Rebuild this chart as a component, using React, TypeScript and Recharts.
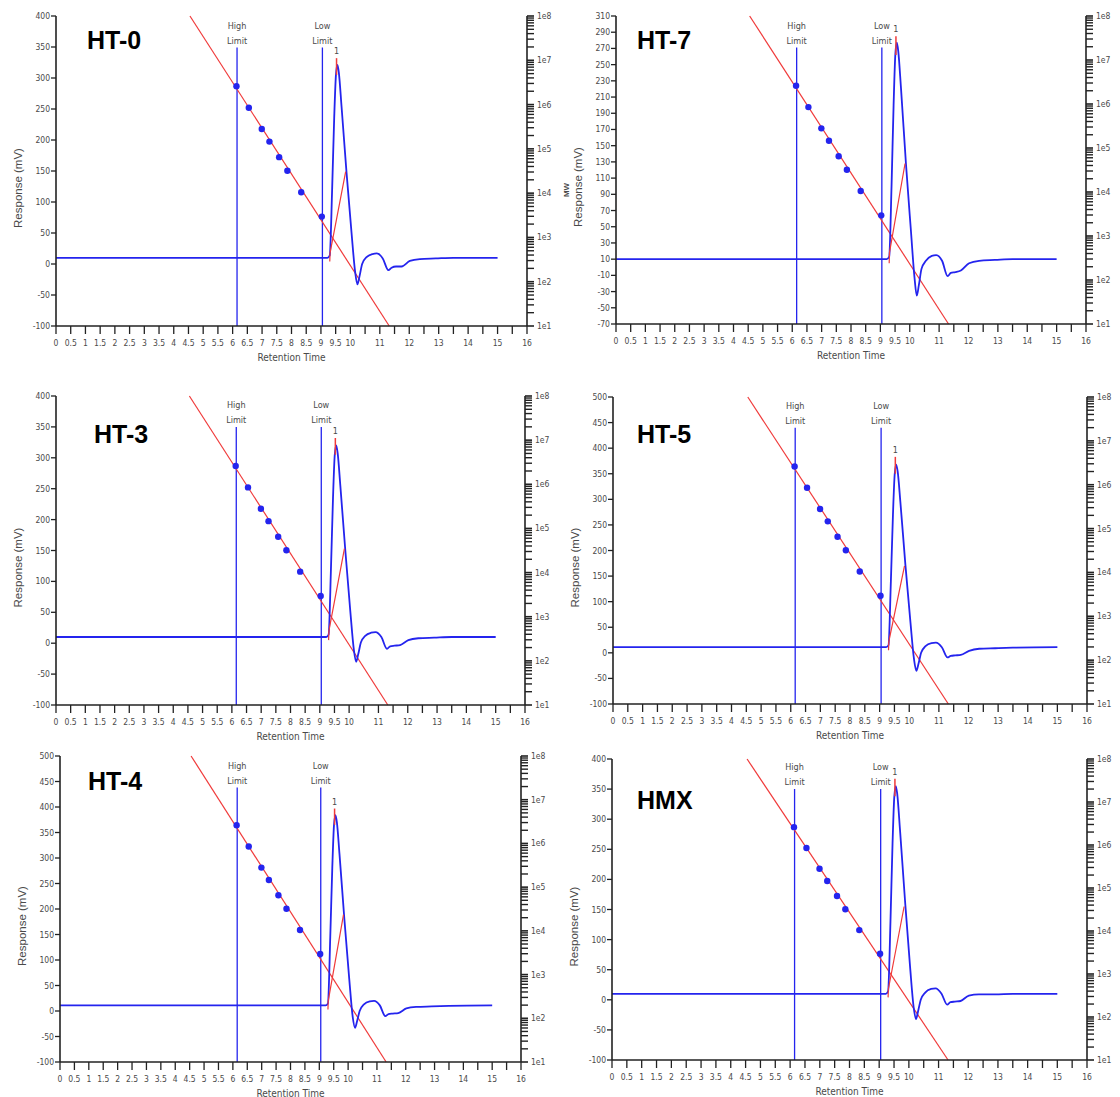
import React from 'react';
import { ComposedChart, Line, ReferenceLine, XAxis, YAxis } from 'recharts';

const BLUE = '#2424ee';
const RED = '#f03a3a';
const AXIS = '#222222';
const TEXT = '#4a4a4a';
const NARROW = "'Liberation Sans Narrow', 'DejaVu Sans Condensed', 'Liberation Sans', sans-serif";
const SANS = "'Liberation Sans', Arial, sans-serif";

// x axis: retention time (min)
const retentionTicks = [
  0, 0.5, 1, 1.5, 2, 2.5, 3, 3.5, 4, 4.5, 5, 5.5, 6, 6.5, 7, 7.5, 8, 8.5, 9, 9.5,
  10, 10.5, 11, 11.5, 12, 12.5, 13, 13.5, 14, 14.5, 15, 15.5, 16,
];

// right axis: log MW
const mwTicks = [1e1, 1e2, 1e3, 1e4, 1e5, 1e6, 1e7, 1e8];
const mwMinorTicks = [
  20, 30, 40, 50, 60, 70, 80, 90,
  200, 300, 400, 500, 600, 700, 800, 900,
  2e3, 3e3, 4e3, 5e3, 6e3, 7e3, 8e3, 9e3,
  2e4, 3e4, 4e4, 5e4, 6e4, 7e4, 8e4, 9e4,
  2e5, 3e5, 4e5, 5e5, 6e5, 7e5, 8e5, 9e5,
  2e6, 3e6, 4e6, 5e6, 6e6, 7e6, 8e6, 9e6,
  2e7, 3e7, 4e7, 5e7, 6e7, 7e7, 8e7, 9e7,
];

// left axis ticks (mV)
const ticks400 = [-100, -50, 0, 50, 100, 150, 200, 250, 300, 350, 400];
const ticks310 = [-70, -50, -30, -10, 10, 30, 50, 70, 90, 110, 130, 150, 170, 190, 210, 230, 250, 270, 290, 310];
const ticks500 = [-100, -50, 0, 50, 100, 150, 200, 250, 300, 350, 400, 450, 500];

// calibration curve and standards (log MW vs retention time), same in every run
const calibrationTime = [4.55, 11.32];
const calibrationMw = [1e8, 1e1];
const standardTime = [6.13, 6.55, 6.99, 7.25, 7.58, 7.86, 8.33, 9.03];
const standardMw = [2.6e6, 8.5e5, 2.8e5, 1.46e5, 6.5e4, 3.2e4, 1.05e4, 2.95e3];

const highLimit = 6.15;
const lowLimit = 9.05;

// detector trace
const traceTime = [
  0, 9.22, 9.3, 9.38, 9.45, 9.51, 9.56, 9.61, 9.7, 9.87, 10.04, 10.16, 10.24, 10.31,
  10.4, 10.55, 10.75, 10.9, 11.1, 11.29, 11.4, 11.55, 11.74, 12.02, 12.36, 12.9, 13.5, 15,
];
const ht0Trace = [10, 10, 14, 120, 235, 305, 321, 308, 254, 147, 50, -12, -33, -20, 0, 11, 16, 17, 9, -10, -6, -4, -4, 5, 8, 9, 10, 10];
const ht7Trace = [10, 10, 13, 100, 200, 263, 277, 266, 222, 128, 45, -12, -35, -22, -2, 8, 14, 15, 8, -11, -7, -6, -4, 5, 8, 9, 10, 10];
const ht3Trace = [10, 10, 14, 120, 235, 305, 320, 307, 255, 150, 52, -10, -30, -18, 1, 12, 17, 18, 10, -9, -5, -4, -3, 5, 8, 9, 10, 10];
const ht5Trace = [11, 11, 15, 140, 270, 350, 368, 354, 295, 172, 60, -12, -35, -22, 0, 13, 19, 20, 11, -9, -6, -5, -4, 4, 8, 9, 10, 11];
const ht4Trace = [11, 11, 15, 145, 280, 365, 384, 370, 308, 180, 62, -12, -33, -20, 0, 13, 19, 20, 11, -10, -6, -5, -4, 5, 8, 9, 10, 11];
const hmxTrace = [10, 10, 14, 130, 260, 338, 355, 341, 283, 165, 55, -12, -32, -19, 0, 12, 18, 19, 10, -8, -4, -3, -2, 7, 9, 9, 10, 10];

// red slice line across the peak
const riseTime = [9.3, 9.31, 9.84];
const ht0Rise = [4, 18, 149];
const ht7Rise = [5, 18, 128];
const ht3Rise = [5, 20, 153];
const ht5Rise = [5, 22, 170];
const ht4Rise = [3, 20, 189];
const hmxRise = [4, 18, 155];

// red peak marker (top, bottom)
const peakTime = 9.53;
const ht0Peak = [332, 305];
const ht7Peak = [285, 262];
const ht3Peak = [332, 305];
const ht5Peak = [383, 350];
const ht4Peak = [397, 365];
const hmxPeak = [367, 338];

const panels = [
  { name: 'HT-0', trace: ht0Trace, rise: ht0Rise, peak: ht0Peak, yTicks: ticks400, limitTop: 349 },
  { name: 'HT-7', trace: ht7Trace, rise: ht7Rise, peak: ht7Peak, yTicks: ticks310, limitTop: 271 },
  { name: 'HT-3', trace: ht3Trace, rise: ht3Rise, peak: ht3Peak, yTicks: ticks400, limitTop: 350 },
  { name: 'HT-5', trace: ht5Trace, rise: ht5Rise, peak: ht5Peak, yTicks: ticks500, limitTop: 440 },
  { name: 'HT-4', trace: ht4Trace, rise: ht4Rise, peak: ht4Peak, yTicks: ticks500, limitTop: 438 },
  { name: 'HMX', trace: hmxTrace, rise: hmxRise, peak: hmxPeak, yTicks: ticks400, limitTop: 350 },
];

const layouts = [
  { left: 0, top: 0, height: 370, margin: { top: 16, right: 0, bottom: 4, left: 0 }, yWidth: 56, mwWidth: 33, xHeight: 40, titleX: 87, titleY: 49 },
  { left: 560, top: 0, height: 370, margin: { top: 16, right: 0, bottom: 6, left: 0 }, yWidth: 56, mwWidth: 34, xHeight: 40, titleX: 637, titleY: 49 },
  { left: 0, top: 380, height: 370, margin: { top: 16, right: 0, bottom: 5, left: 0 }, yWidth: 56, mwWidth: 35, xHeight: 40, titleX: 94, titleY: 443 },
  { left: 560, top: 380, height: 370, margin: { top: 17, right: 0, bottom: 6, left: 0 }, yWidth: 53, mwWidth: 33, xHeight: 40, titleX: 637, titleY: 443 },
  { left: 0, top: 740, height: 357, margin: { top: 16, right: 0, bottom: 0, left: 0 }, yWidth: 60, mwWidth: 39, xHeight: 35, titleX: 88, titleY: 790 },
  { left: 560, top: 740, height: 357, margin: { top: 19, right: 0, bottom: 2, left: 0 }, yWidth: 52, mwWidth: 33, xHeight: 35, titleX: 637, titleY: 809 },
];

const RetentionTick = (p: any) => {
  const { x, y, payload } = p;
  const v = payload.value;
  if (v > 10 && !Number.isInteger(v)) return <g />;
  return (
    <text x={x} y={y + 10} textAnchor="middle" fontSize={8.5} fill={TEXT} fontFamily={NARROW}>
      {v}
    </text>
  );
};

const MwTick = (p: any) => {
  const { x, y, payload } = p;
  const exp = Math.round(Math.log10(payload.value));
  return (
    <g>
      <line x1={x} x2={x + 7} y1={y} y2={y} stroke={AXIS} strokeWidth={1.6} />
      <text x={x + 10} y={y + 3} fontSize={8.5} fill={TEXT} fontFamily={NARROW}>
        {`1e${exp}`}
      </text>
    </g>
  );
};

// minor log tick: short outward stroke at the right axis
const minorTickShape = (p: any) => {
  const xr = Math.max(p.x1, p.x2);
  return <line x1={xr} x2={xr + 7} y1={p.y1} y2={p.y2} stroke={AXIS} strokeWidth={1.4} />;
};

const limitDot = (p: any) => {
  const { cx, cy, payload, index } = p;
  if (!payload.tag) return <g key={`l${index}`} />;
  return (
    <g key={`l${index}`}>
      <text x={cx} y={cy - 19} textAnchor="middle" fontSize={9} fill={TEXT} fontFamily={NARROW}>
        {payload.tag}
      </text>
      <text x={cx} y={cy - 4} textAnchor="middle" fontSize={9} fill={TEXT} fontFamily={NARROW}>
        Limit
      </text>
    </g>
  );
};

const peakDot = (p: any) => {
  const { cx, cy, payload, index } = p;
  if (!payload.tag) return <g key={`p${index}`} />;
  return (
    <text key={`p${index}`} x={cx} y={cy - 4} textAnchor="middle" fontSize={9} fill={TEXT} fontFamily={NARROW}>
      {payload.tag}
    </text>
  );
};

const responseLabel = (p: any) => {
  const vb = p.viewBox;
  const cx = vb.x + vb.width - 38;
  const cy = vb.y + vb.height / 2 + 17;
  return (
    <text
      x={cx}
      y={cy}
      transform={`rotate(-90 ${cx} ${cy})`}
      textAnchor="middle"
      dominantBaseline="central"
      fontSize={11.5}
      fill={TEXT}
      fontFamily={SANS}
    >
      Response (mV)
    </text>
  );
};

const retentionLabel = (p: any) => {
  const vb = p.viewBox;
  return (
    <text x={vb.x + vb.width / 2} y={vb.y + 34.5} textAnchor="middle" fontSize={10} fill={TEXT} fontFamily={NARROW}>
      Retention Time
    </text>
  );
};

function Panel({ panel, layout }: { panel: (typeof panels)[number]; layout: (typeof layouts)[number] }) {
  const yMin = panel.yTicks[0];
  const yMax = panel.yTicks[panel.yTicks.length - 1];
  const traceData = traceTime.map((t, i) => ({ t, v: panel.trace[i] }));
  const calibData = calibrationTime.map((t, i) => ({ t, mw: calibrationMw[i] }));
  const stdData = standardTime.map((t, i) => ({ t, mw: standardMw[i] }));
  const highData = [{ t: highLimit, v: panel.limitTop, tag: 'High' }, { t: highLimit, v: yMin }];
  const lowData = [{ t: lowLimit, v: panel.limitTop, tag: 'Low' }, { t: lowLimit, v: yMin }];
  const riseData = riseTime.map((t, i) => ({ t, v: panel.rise[i] }));
  const peakData = [{ t: peakTime, v: panel.peak[0], tag: '1' }, { t: peakTime, v: panel.peak[1] }];

  return (
    <div style={{ position: 'absolute', left: layout.left, top: layout.top }}>
      <ComposedChart width={560} height={layout.height} margin={layout.margin}>
        <XAxis
          xAxisId="x"
          dataKey="t"
          type="number"
          domain={[0, 16]}
          ticks={retentionTicks}
          interval={0}
          tickSize={8}
          tickMargin={2}
          tick={<RetentionTick />}
          axisLine={{ stroke: AXIS, strokeWidth: 1.6 }}
          tickLine={{ stroke: AXIS, strokeWidth: 1.3 }}
          height={layout.xHeight}
          label={retentionLabel}
        />
        <XAxis
          xAxisId="top"
          orientation="top"
          type="number"
          domain={[0, 16]}
          tick={false}
          tickLine={false}
          height={0}
          axisLine={{ stroke: AXIS, strokeWidth: 1.6 }}
        />
        <YAxis
          yAxisId="mv"
          type="number"
          domain={[yMin, yMax]}
          ticks={panel.yTicks}
          interval={0}
          tickSize={5}
          tickMargin={1}
          width={layout.yWidth}
          tick={{ fontSize: 8.5, fill: TEXT, fontFamily: NARROW }}
          axisLine={{ stroke: AXIS, strokeWidth: 1.6 }}
          tickLine={{ stroke: AXIS, strokeWidth: 1.3 }}
          label={responseLabel}
        />
        <YAxis
          yAxisId="mw"
          orientation="right"
          type="number"
          scale="log"
          domain={[10, 1e8]}
          ticks={mwTicks}
          interval={0}
          tickSize={0}
          tickMargin={0}
          tickLine={false}
          tick={<MwTick />}
          width={layout.mwWidth}
          axisLine={{ stroke: AXIS, strokeWidth: 1.6 }}
        />
        {mwMinorTicks.map((v) => (
          <ReferenceLine key={v} xAxisId="x" yAxisId="mw" y={v} shape={minorTickShape} ifOverflow="visible" />
        ))}
        <Line xAxisId="x" yAxisId="mv" data={highData} dataKey="v" stroke={BLUE} strokeWidth={1.3} dot={limitDot} activeDot={false} isAnimationActive={false} />
        <Line xAxisId="x" yAxisId="mv" data={lowData} dataKey="v" stroke={BLUE} strokeWidth={1.3} dot={limitDot} activeDot={false} isAnimationActive={false} />
        <Line xAxisId="x" yAxisId="mw" data={calibData} dataKey="mw" stroke={RED} strokeWidth={1.2} dot={false} activeDot={false} isAnimationActive={false} />
        <Line xAxisId="x" yAxisId="mv" data={traceData} dataKey="v" type="monotone" stroke={BLUE} strokeWidth={1.8} dot={false} activeDot={false} isAnimationActive={false} />
        <Line xAxisId="x" yAxisId="mv" data={riseData} dataKey="v" stroke={RED} strokeWidth={1.2} dot={false} activeDot={false} isAnimationActive={false} />
        <Line xAxisId="x" yAxisId="mv" data={peakData} dataKey="v" stroke={RED} strokeWidth={1.5} dot={peakDot} activeDot={false} isAnimationActive={false} />
        <Line
          xAxisId="x"
          yAxisId="mw"
          data={stdData}
          dataKey="mw"
          stroke="none"
          dot={{ r: 3.2, fill: BLUE, stroke: 'none' }}
          activeDot={false}
          isAnimationActive={false}
        />
      </ComposedChart>
    </div>
  );
}

export default function App() {
  return (
    <div style={{ position: 'absolute', left: 0, top: 0, width: 1120, height: 1097, background: '#fff', overflow: 'hidden' }}>
      {panels.map((p, i) => (
        <Panel key={p.name} panel={p} layout={layouts[i]} />
      ))}
      <svg width={1120} height={1097} style={{ position: 'absolute', left: 0, top: 0, pointerEvents: 'none' }}>
        {panels.map((p, i) => (
          <text key={p.name} x={layouts[i].titleX} y={layouts[i].titleY} fontSize={25} fontWeight="bold" fill="#000" fontFamily={SANS}>
            {p.name}
          </text>
        ))}
        <text x={566} y={190} transform="rotate(-90 566 190)" textAnchor="middle" dominantBaseline="central" fontSize={8} fontWeight="bold" fill={TEXT} fontFamily={SANS}>
          MW
        </text>
      </svg>
    </div>
  );
}
